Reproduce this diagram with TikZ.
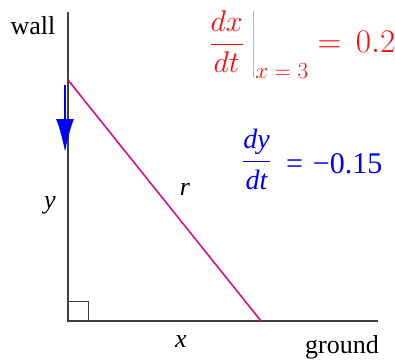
\RequirePackage{fix-cm}
\documentclass[tikz,border=0pt]{standalone}
\usepackage{fontspec}
\setmainfont{Liberation Serif}
\newfontfamily\tnr{Liberation Serif}[ItalicFont={Liberation Serif Italic}]
\usetikzlibrary{arrows.meta}
\DeclareMathSizes{30}{30}{23}{18}
\definecolor{ladder}{RGB}{232,0,128}
\definecolor{ratered}{RGB}{255,10,10}
\tikzset{
  lbl/.style={font=\tnr\fontsize{26}{30}\selectfont, inner sep=0pt, anchor=base},
}
\begin{document}
\begin{tikzpicture}[x=1pt,y=1pt]
  \useasboundingbox (0,0) rectangle (395,360);
  \coordinate (O) at (68,39);
  \coordinate (W) at (68,348);
  \coordinate (G) at (378,39);
  \coordinate (A) at (68,280);
  \coordinate (B) at (261,39);
  \coordinate (v0) at (65,275);
  \coordinate (v1) at (65,208);
  % wall, ground and ladder
  \draw[black!75, line width=1.2pt] (W) -- (O) -- (G);
  \draw[black!75, line width=1pt] (O) rectangle ++(20,20);
  \draw[ladder, line width=1.5pt] (A) -- (B);
  \draw[blue, line width=2pt, -{Latex[length=33pt,width=18pt]}] (v0) -- (v1);
  \node[lbl] (wall) at (33,326) {wall};
  \node[lbl] (ground) at (342,7) {ground};
  \node[lbl] (ylab) at (50,152) {\itshape y};
  \node[lbl] (rlab) at (185,165) {\itshape r};
  \node[lbl] (xlab) at (181,13) {\itshape x};
  % rates
  \node[ratered, inner sep=0pt, anchor=base west, font=\fontsize{30}{34}\selectfont]
    (dxdt) at (208,308) {$\displaystyle\left.\frac{dx}{dt}\mskip5mu\right|_{x\mskip\thickmuskip=\mskip\thickmuskip3}$\hspace{9pt}\mbox{\fontsize{33}{38}\selectfont$=\,0.2$}};
  \node[blue, inner sep=0pt, anchor=base west, font=\tnr\fontsize{30}{34}\selectfont]
    (dydt) at (242,187) {\raisebox{4.5pt}{$\displaystyle\frac{\mbox{\tnr\fontsize{28}{32}\selectfont\itshape dy}}{\mbox{\tnr\fontsize{28}{32}\selectfont\itshape dt}}$}\hspace{15pt}=\hspace{10pt}−0.15};
\end{tikzpicture}
\end{document}
